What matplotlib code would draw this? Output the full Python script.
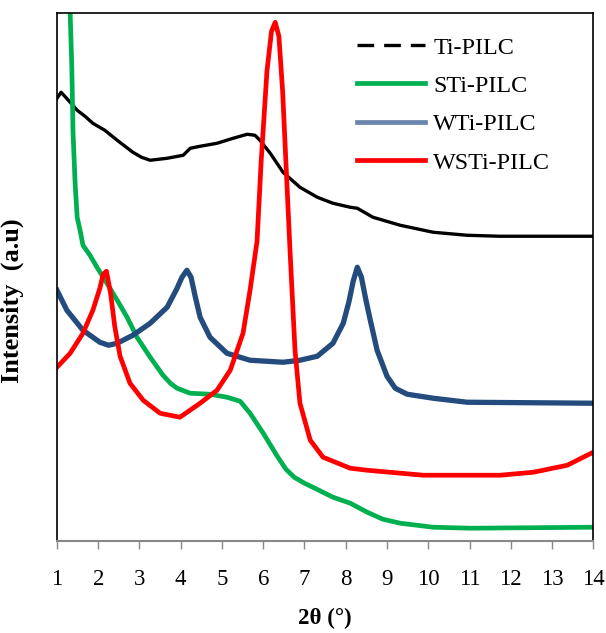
import matplotlib
matplotlib.use("Agg")
import matplotlib.pyplot as plt
from matplotlib.lines import Line2D

plt.rcParams['font.family'] = ['Liberation Serif', 'DejaVu Serif']

# 2theta (deg) and intensity (a.u.)
ti_x = [1.00, 1.10, 1.19, 1.32, 1.49, 1.68, 1.87, 2.16, 2.46, 2.84, 3.05, 3.26, 3.67, 4.06, 4.23,
        4.47, 4.88, 5.27, 5.61, 5.80, 5.92, 6.17, 6.48, 6.89, 7.31, 7.69, 8.11, 8.28, 8.66,
        9.32, 10.12, 10.94, 11.74, 12.55, 14.0]
ti_y = [443, 449, 445, 439, 431, 425, 418, 411, 401, 389, 384, 381, 383, 386, 393,
        395, 398, 403, 407, 406, 401, 388, 369, 354, 344, 338, 334, 333, 324,
        316, 309, 306, 305, 305, 305]

sti_x = [1.22, 1.32, 1.36, 1.39, 1.44, 1.49, 1.56, 1.63, 1.80, 1.97, 2.21, 2.46, 2.70, 2.94,
         3.26, 3.57, 3.75, 3.91, 4.23, 4.71, 5.12, 5.44, 5.68, 6.00, 6.34, 6.55, 6.75, 7.00,
         7.30, 7.69, 8.11, 8.52, 8.90, 9.32, 10.12, 11.02, 14.0]
sti_y = [700, 528, 474, 408, 358, 324, 311, 296, 286, 274, 258, 241, 224, 204,
         184, 166, 158, 153, 148, 147, 144, 140, 128, 108, 85, 72, 64, 58,
         52, 44, 38, 29, 22, 18, 14, 13, 14]

wti_x = [1.00, 1.24, 1.63, 2.04, 2.25, 2.46, 2.84, 3.26, 3.67, 3.90, 4.03, 4.15, 4.25, 4.35,
         4.47, 4.71, 5.12, 5.68, 6.48, 6.89, 7.31, 7.69, 7.94, 8.08, 8.18, 8.28, 8.38, 8.48,
         8.59, 8.76, 9.00, 9.20, 9.49, 10.12, 10.94, 14.0]
wti_y = [251, 231, 211, 199, 196, 198, 206, 218, 234, 252, 264, 271, 264, 245,
         224, 204, 188, 181, 179, 181, 185, 198, 218, 240, 260, 274, 264, 243,
         222, 191, 165, 153, 147, 143, 139, 138]

wsti_x = [1.00, 1.32, 1.63, 1.87, 2.04, 2.12, 2.20, 2.30, 2.40, 2.53, 2.77, 3.09, 3.50, 3.98,
          4.47, 4.88, 5.20, 5.51, 5.68, 5.85, 5.95, 6.09, 6.20, 6.29, 6.38, 6.47, 6.56, 6.65,
          6.77, 6.89, 7.14, 7.45, 8.11, 8.52, 9.88, 11.74, 12.55, 13.37, 14.0]
wsti_y = [174, 188, 208, 231, 253, 267, 270, 248, 215, 185, 158, 141, 128, 124,
          138, 151, 171, 208, 251, 300, 380, 470, 510, 519, 505, 450, 370, 290,
          191, 138, 101, 84, 73, 71, 66, 66, 69, 76, 89]

labels = ["Ti-PILC", "STi-PILC", "WTi-PILC", "WSTi-PILC"]
xticks = list(range(1, 15))

fig = plt.figure(figsize=(6.06, 6.33), dpi=100)
ax = fig.add_axes([0.094, 0.145, 0.885, 0.834])

ax.plot(ti_x, ti_y, color='black', lw=2.4)
ax.plot(sti_x, sti_y, color='#00b050', lw=3.4)
ax.plot(wti_x, wti_y, color='#234b7e', lw=3.8)
ax.plot(wsti_x, wsti_y, color='#ff0000', lw=3.4)

ax.set_xlim(1, 14)
ax.set_ylim(0, 528)
ax.set_xticks(xticks)
ax.set_yticks([])
ax.tick_params(axis='x', direction='out', length=6, width=1, color='#888888',
               labelsize=16.5, pad=14)
ax.spines['bottom'].set_color('#888888')
ax.spines['bottom'].set_linewidth(1.5)
for s in ['left', 'top', 'right']:
    ax.spines[s].set_color('black')
    ax.spines[s].set_linewidth(1.2)

ax.set_xlabel("2θ (°)", fontsize=16.5, fontweight='bold', labelpad=13)
ax.set_ylabel("Intensity  (a.u)", fontsize=19, fontweight='bold')
ax.yaxis.set_label_coords(-0.062, 0.456)

handles = [
    Line2D([], [], color='black', lw=2.4, dashes=(5, 3)),
    Line2D([], [], color='#00b050', lw=3.4),
    Line2D([], [], color='#6a86ad', lw=3.4),
    Line2D([], [], color='#ff0000', lw=3.4),
]
ax.legend(handles, labels, loc='upper left', bbox_to_anchor=(0.519, 0.997), frameon=False,
          fontsize=17.4, handlelength=2.8, handletextpad=0.35, labelspacing=0.68)

fig.savefig("out.png", dpi=100)
